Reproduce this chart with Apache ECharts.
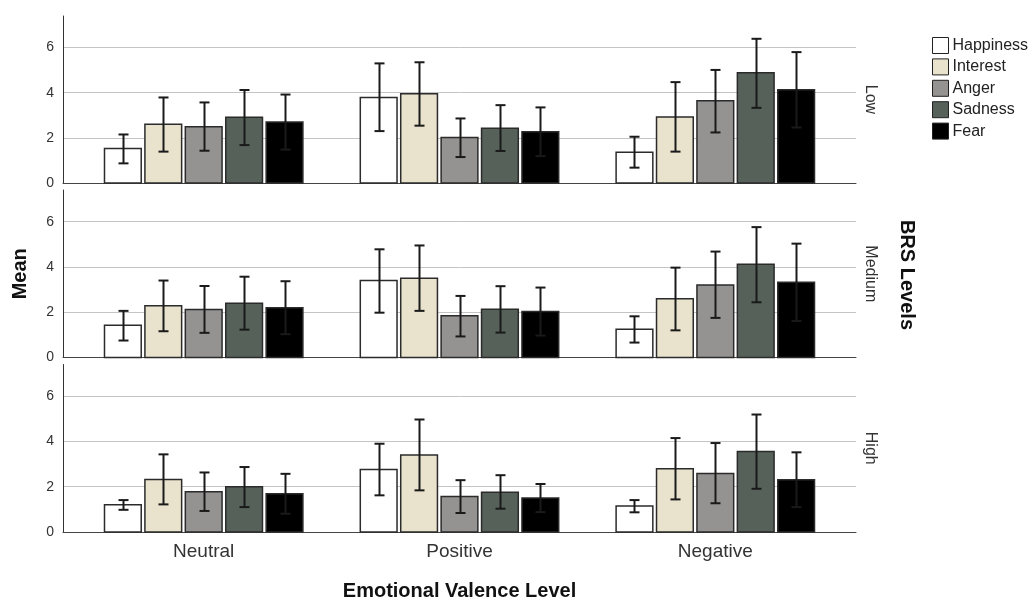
<!DOCTYPE html>
<html>
<head>
<meta charset="utf-8">
<script src="https://cdn.jsdelivr.net/npm/echarts@6/dist/echarts.min.js"></script>
<style>
  html, body { margin: 0; padding: 0; background: #ffffff; }
  #chart { width: 1031px; height: 600px; }
</style>
</head>
<body>
<div id="chart"></div>
<script>
// ---- Data ----
const categories = ['Neutral', 'Positive', 'Negative'];
const emotions = ['Happiness', 'Interest', 'Anger', 'Sadness', 'Fear'];
const panels = ['Low', 'Medium', 'High'];
const yTicks = [0, 2, 4, 6];

// rows = emotions, columns = categories
const lowMean  = [[1.53, 3.79, 1.36], [2.60, 3.95, 2.93], [2.49, 2.02, 3.64], [2.91, 2.43, 4.88], [2.70, 2.27, 4.13]];
const lowUpper = [[2.15, 5.30, 2.05], [3.79, 5.35, 4.47], [3.57, 2.86, 5.01], [4.12, 3.45, 6.39], [3.92, 3.35, 5.80]];
const lowLower = [[0.87, 2.30, 0.68], [1.39, 2.54, 1.39], [1.43, 1.15, 2.24], [1.68, 1.42, 3.33], [1.48, 1.19, 2.46]];

const mediumMean  = [[1.42, 3.40, 1.25], [2.29, 3.50, 2.60], [2.12, 1.84, 3.20], [2.40, 2.13, 4.12], [2.20, 2.03, 3.32]];
const mediumUpper = [[2.06, 4.78, 1.82], [3.40, 4.95, 3.97], [3.16, 2.72, 4.68], [3.57, 3.15, 5.76], [3.37, 3.09, 5.03]];
const mediumLower = [[0.75, 1.98, 0.66], [1.16, 2.06, 1.20], [1.09, 0.93, 1.75], [1.23, 1.10, 2.44], [1.03, 0.97, 1.61]];

const highMean  = [[1.20, 2.76, 1.15], [2.32, 3.40, 2.79], [1.78, 1.57, 2.59], [2.00, 1.76, 3.56], [1.69, 1.50, 2.31]];
const highUpper = [[1.41, 3.90, 1.41], [3.43, 4.97, 4.15], [2.63, 2.29, 3.93], [2.87, 2.51, 5.19], [2.57, 2.12, 3.52]];
const highLower = [[0.98, 1.62, 0.87], [1.22, 1.84, 1.44], [0.93, 0.84, 1.27], [1.10, 1.03, 1.91], [0.81, 0.88, 1.10]];

// ---- Styling ----
const emotionColors = ['#ffffff', '#e9e3cd', '#959292', '#566259', '#000000'];
const FONT = '"Liberation Sans", Arial, sans-serif';
const BAR_STEP = 0.158;   // in category units
const BAR_WIDTH = 0.1436; // in category units
const CAP_PX = 10;

const panelData = [
  { mean: lowMean, upper: lowUpper, lower: lowLower },
  { mean: mediumMean, upper: mediumUpper, lower: mediumLower },
  { mean: highMean, upper: highUpper, lower: highLower }
];

const gridsPx = [
  { top: 16, height: 167 },
  { top: 190, height: 167.5 },
  { top: 364.5, height: 167.5 }
];

const grids = gridsPx.map(g => ({
  left: 63, right: 175, top: g.top, height: g.height,
  containLabel: false, outerBoundsMode: 'none'
}));

const xAxes = panels.map((p, i) => ({
  type: 'value',
  gridIndex: i,
  min: -0.55,
  max: 2.55,
  axisLine: { show: true, onZero: false, lineStyle: { color: '#444', width: 1 } },
  axisTick: { show: false },
  splitLine: { show: false },
  axisLabel: i === 2 ? {
    show: true,
    customValues: [0, 1, 2],
    formatter: v => categories[Math.round(v)],
    color: '#333',
    fontFamily: FONT,
    fontSize: 19,
    margin: 10
  } : { show: false },
  name: i === 2 ? 'Emotional Valence Level' : '',
  nameLocation: 'middle',
  nameGap: 49,
  nameTextStyle: { fontFamily: FONT, fontSize: 20, fontWeight: 'bold', color: '#111' }
}));

const yAxes = panels.map((p, i) => ({
  type: 'value',
  gridIndex: i,
  min: 0,
  max: 7.4,
  interval: 2,
  axisLine: { show: true, onZero: false, lineStyle: { color: '#333', width: 1 } },
  axisTick: { show: false },
  axisLabel: {
    showMaxLabel: false,
    color: '#333',
    fontFamily: FONT,
    fontSize: 14,
    margin: 9,
    formatter: v => (yTicks.indexOf(v) >= 0 ? String(v) : '')
  },
  splitLine: { show: true, lineStyle: { color: ['#c4c4c4', '#c4c4c4', '#c4c4c4', '#c4c4c4', 'rgba(0,0,0,0)'], width: 1 } },
  name: i === 1 ? 'Mean' : '',
  nameLocation: 'middle',
  nameRotate: 90,
  nameGap: 33,
  nameTextStyle: { fontFamily: FONT, fontSize: 20, fontWeight: 'bold', color: '#111' }
}));

function makeRenderItem(k) {
  return function (params, api) {
    const cx = api.value(0) + (k - 2) * BAR_STEP;
    const mean = api.value(1);
    const lo = api.value(2);
    const hi = api.value(3);
    const pBL = api.coord([cx - BAR_WIDTH / 2, 0]);
    const pTR = api.coord([cx + BAR_WIDTH / 2, mean]);
    const pLo = api.coord([cx, lo]);
    const pHi = api.coord([cx, hi]);
    const x = Math.round(pLo[0]) + 0.5;
    return {
      type: 'group',
      children: [
        {
          type: 'rect',
          shape: { x: pBL[0], y: pTR[1], width: pTR[0] - pBL[0], height: pBL[1] - pTR[1] },
          style: { fill: emotionColors[k], stroke: '#2b2b2b', lineWidth: 1.5 }
        },
        {
          type: 'line',
          shape: { x1: x, y1: pLo[1], x2: x, y2: pHi[1] },
          style: { stroke: '#1a1a1a', lineWidth: 2 }
        },
        {
          type: 'line',
          shape: { x1: x - CAP_PX / 2, y1: pHi[1], x2: x + CAP_PX / 2, y2: pHi[1] },
          style: { stroke: '#1a1a1a', lineWidth: 2 }
        },
        {
          type: 'line',
          shape: { x1: x - CAP_PX / 2, y1: pLo[1], x2: x + CAP_PX / 2, y2: pLo[1] },
          style: { stroke: '#1a1a1a', lineWidth: 2 }
        }
      ]
    };
  };
}

const series = [];
panelData.forEach((pd, pi) => {
  emotions.forEach((em, k) => {
    series.push({
      type: 'custom',
      name: em,
      xAxisIndex: pi,
      yAxisIndex: pi,
      itemStyle: { color: emotionColors[k], borderColor: '#222', borderWidth: 1 },
      encode: { x: 0, y: [1, 2, 3] },
      renderItem: makeRenderItem(k),
      data: categories.map((c, ci) => [ci, pd.mean[k][ci], pd.lower[k][ci], pd.upper[k][ci]]),
      silent: true,
      animation: false
    });
  });
});

const panelCenters = gridsPx.map(g => g.top + g.height / 2);

const option = {
  backgroundColor: '#ffffff',
  animation: false,
  grid: grids,
  xAxis: xAxes,
  yAxis: yAxes,
  legend: {
    orient: 'vertical',
    left: 932,
    top: 37,
    padding: 0,
    icon: 'rect',
    itemWidth: 16,
    itemHeight: 16,
    itemGap: 4.4,
    selectedMode: false,
    data: emotions.map((e, k) => ({ name: e, itemStyle: { color: emotionColors[k], borderColor: '#222', borderWidth: 1 } })),
    textStyle: { fontFamily: FONT, fontSize: 16, color: '#222', lineHeight: 16, padding: [0, 0, 0, -1] }
  },
  graphic: [
    ...panels.map((p, i) => ({
      type: 'text',
      x: 870,
      y: panelCenters[i],
      rotation: -Math.PI / 2,
      style: { text: p, font: '16px ' + FONT, fill: '#333', textAlign: 'center', textVerticalAlign: 'middle' }
    })),
    {
      type: 'text',
      x: 907,
      y: 275,
      rotation: -Math.PI / 2,
      style: { text: 'BRS Levels', font: 'bold 20px ' + FONT, fill: '#111', textAlign: 'center', textVerticalAlign: 'middle' }
    }
  ],
  series: series
};

const chart = echarts.init(document.getElementById('chart'), null, { renderer: 'canvas' });
chart.setOption(option);
</script>
</body>
</html>
